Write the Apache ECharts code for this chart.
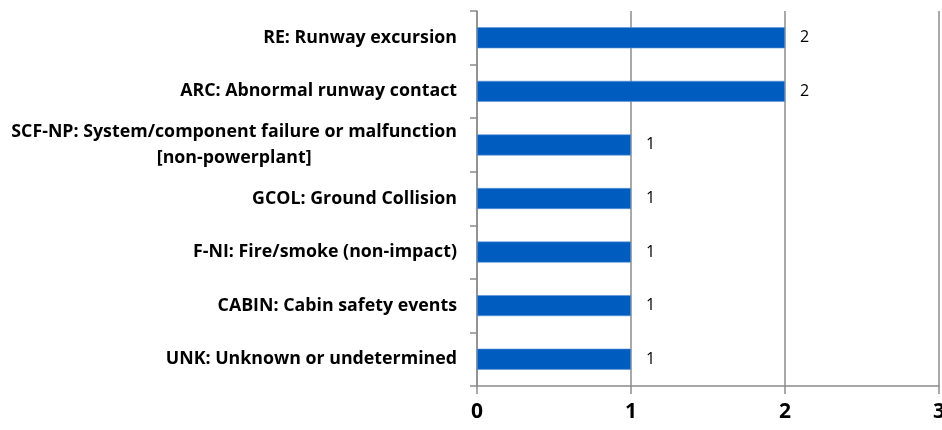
<!DOCTYPE html>
<html>
<head>
<meta charset="utf-8">
<script src="https://cdn.jsdelivr.net/npm/echarts@6/dist/echarts.min.js"></script>
<style>
  html, body { margin: 0; padding: 0; background: #fff; }
  #chart { width: 942px; height: 430px; }
</style>
</head>
<body>
<div id="chart"></div>
<script>
// categories, top to bottom
var categories = [
  'RE: Runway excursion',
  'ARC: Abnormal runway contact',
  'SCF-NP: System/component failure or malfunction\n[non-powerplant]',
  'GCOL: Ground Collision',
  'F-NI: Fire/smoke (non-impact)',
  'CABIN: Cabin safety events',
  'UNK: Unknown or undetermined'
];
var counts = [2, 2, 1, 1, 1, 1, 1];
var xTicks = [0, 1, 2, 3];

var font = '"Open Sans", Lato, sans-serif';
var labelSize = 17.8;

// width of the longest line, so the wrapped label can be centred line by line
var ctx = document.createElement('canvas').getContext('2d');
ctx.font = 'bold ' + labelSize + 'px ' + font;
var wideLine = 0;
categories.forEach(function (c) {
  c.split('\n').forEach(function (s) { wideLine = Math.max(wideLine, ctx.measureText(s).width); });
});

var myChart = echarts.init(document.getElementById('chart'));

var option = {
  animation: false,
  grid: { left: 477, right: 3, top: 11, bottom: 44, outerBoundsMode: 'none' },
  xAxis: {
    type: 'value',
    min: xTicks[0],
    max: xTicks[xTicks.length - 1],
    interval: 1,
    axisLine: { show: true, lineStyle: { color: '#8c8c8c', width: 1.5 } },
    axisTick: { show: true, length: 8, lineStyle: { color: '#8c8c8c', width: 1.5 } },
    splitLine: { show: true, lineStyle: { color: '#8c8c8c', width: 1.5 } },
    axisLabel: {
      color: '#000', fontFamily: font, fontWeight: 'bold', fontSize: 21, margin: 16
    }
  },
  yAxis: {
    type: 'category',
    inverse: true,
    data: categories,
    axisLine: { show: true, lineStyle: { color: '#8c8c8c', width: 1.5 } },
    axisTick: { show: true, length: 7, lineStyle: { color: '#8c8c8c', width: 1.5 } },
    axisLabel: {
      color: '#000', fontFamily: font, fontWeight: 'bold', fontSize: labelSize, margin: 20,
      formatter: function (v) {
        if (v.indexOf('\n') >= 0) {
          return v.split('\n').map(function (s) { return '{c|' + s + '}'; }).join('\n');
        }
        return v;
      },
      rich: {
        c: {
          width: wideLine, align: 'center', color: '#000', fontFamily: font,
          fontWeight: 'bold', fontSize: labelSize, lineHeight: 26
        }
      }
    }
  },
  series: [{
    type: 'bar',
    data: counts,
    barWidth: 21,
    itemStyle: { color: '#005cbf', borderColor: '#5d95d6', borderWidth: 0.6 },
    label: {
      show: true, position: 'right', distance: 15,
      color: '#000', fontFamily: font, fontSize: 16
    }
  }]
};

myChart.setOption(option);
</script>
</body>
</html>
